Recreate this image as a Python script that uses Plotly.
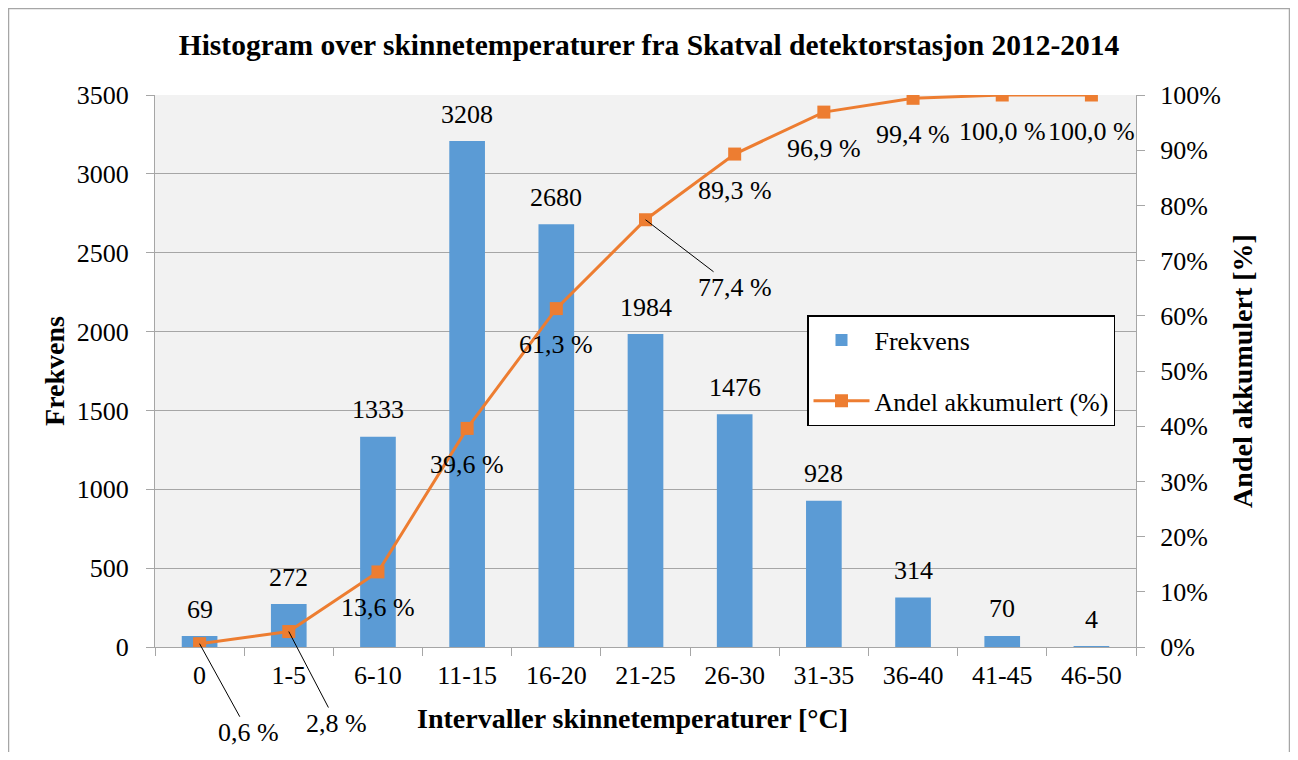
import plotly.graph_objects as go

categories = ["0", "1-5", "6-10", "11-15", "16-20", "21-25", "26-30", "31-35", "36-40", "41-45", "46-50"]
frekvens = [69, 272, 1333, 3208, 2680, 1984, 1476, 928, 314, 70, 4]
akkumulert = [0.6, 2.8, 13.6, 39.6, 61.3, 77.4, 89.3, 96.9, 99.4, 100.0, 100.0]

FONT = "Liberation Serif"
# page has an 8px body margin, so the figure is 16px smaller than the window
W, H = 1282, 744
OFF = 8
L, R, T, B = 155 - OFF, 1136 - OFF, 95 - OFF, 647 - OFF
pw, ph = R - L, B - T

fig = go.Figure()

fig.add_trace(go.Bar(
    x=categories, y=frekvens, name="Frekvens",
    marker=dict(color="#5b9bd5", line=dict(width=0)),
    width=0.4, legendgroup="a",
))

fig.add_trace(go.Scatter(
    x=categories, y=[v / 100 for v in akkumulert], name="Andel akkumulert (%)",
    mode="lines+markers", yaxis="y2",
    line=dict(color="#ed7d31", width=3),
    marker=dict(symbol="square", size=13, color="#ed7d31"),
    legendgroup="b",
))

lab_font = dict(family=FONT, size=26, color="black")
annotations = []
# bar value labels
for c, v in zip(categories, frekvens):
    annotations.append(dict(
        x=c, y=v, xref="x", yref="y", text=str(v), showarrow=False,
        yshift=27, font=lab_font,
    ))

# cumulative labels; some with leader lines
leaders = {0: (49, 89), 1: (48, 92), 5: (89, 68)}
for i, (c, v) in enumerate(zip(categories, akkumulert)):
    txt = f"{v:.1f} %".replace(".", ",")
    if i in leaders:
        ax, ay = leaders[i]
        annotations.append(dict(
            x=c, y=v / 100, xref="x", yref="y2", text=txt, showarrow=True,
            arrowhead=0, arrowwidth=1, arrowcolor="black", ax=ax, ay=ay,
            font=lab_font,
        ))
    else:
        annotations.append(dict(
            x=c, y=v / 100, xref="x", yref="y2", text=txt, showarrow=False,
            yshift=-36, font=lab_font,
        ))

title_font = dict(family=FONT, size=28, color="black")
# x axis title (sits slightly left of the plot centre in the original)
annotations.append(dict(
    x=(632 - 155) / pw, y=-(718 - 647) / ph, xref="paper", yref="paper",
    text="<b>Intervaller skinnetemperaturer [°C]</b>", showarrow=False,
    xanchor="center", yanchor="middle", font=title_font,
))

# outer chart border (bottom edge runs off the page)
fig.add_shape(
    type="rect", xref="paper", yref="paper",
    x0=(0.5 - L) / pw, x1=(W - 0.5 - L) / pw,
    y0=(B - H - 20) / ph, y1=(B - 0.5) / ph,
    line=dict(color="#a6a6a6", width=1.5), layer="below",
)

axis_common = dict(
    showline=True, linecolor="#a6a6a6", linewidth=1,
    ticks="outside", ticklen=8, tickcolor="#a6a6a6",
    tickfont=dict(family=FONT, size=26, color="black"),
    automargin=False,
)

fig.update_layout(
    width=W, height=H,
    margin=dict(l=L, r=W - R, t=T, b=H - B, autoexpand=False),
    paper_bgcolor="white", plot_bgcolor="#f2f2f2",
    font=dict(family=FONT, color="black"),
    title=dict(
        text="<b>Histogram over skinnetemperaturer fra Skatval detektorstasjon 2012-2014</b>",
        x=(649 - OFF) / W, xanchor="center", y=1 - (45 - OFF) / H, yanchor="middle",
        font=dict(family=FONT, size=29.5, color="black"),
    ),
    xaxis=dict(
        type="category", tickson="boundaries", showgrid=False,
        range=[-0.5, len(categories) - 0.5], ticklabelstandoff=5,
        **axis_common,
    ),
    yaxis=dict(
        range=[0, 3500], dtick=500, showgrid=True, gridcolor="#a6a6a6", gridwidth=1,
        zeroline=False, ticklabelstandoff=12,
        title=dict(text="<b>Frekvens</b>", font=title_font, standoff=3),
        **axis_common,
    ),
    yaxis2=dict(
        range=[0, 1], dtick=0.1, tickformat=".0%", overlaying="y", side="right",
        showgrid=False, zeroline=False, ticklabelstandoff=10,
        title=dict(text="<b>Andel akkumulert [%]</b>", font=title_font, standoff=12),
        **axis_common,
    ),
    legend=dict(
        x=(807 - 155) / pw, y=(647 - 315) / ph, xanchor="left", yanchor="top",
        bgcolor="white", bordercolor="black", borderwidth=1.5,
        font=dict(family=FONT, size=26, color="black"),
        traceorder="grouped", tracegroupgap=24, itemwidth=56,
    ),
    annotations=annotations,
    bargap=0.6,
)

fig.write_html("out.html")
